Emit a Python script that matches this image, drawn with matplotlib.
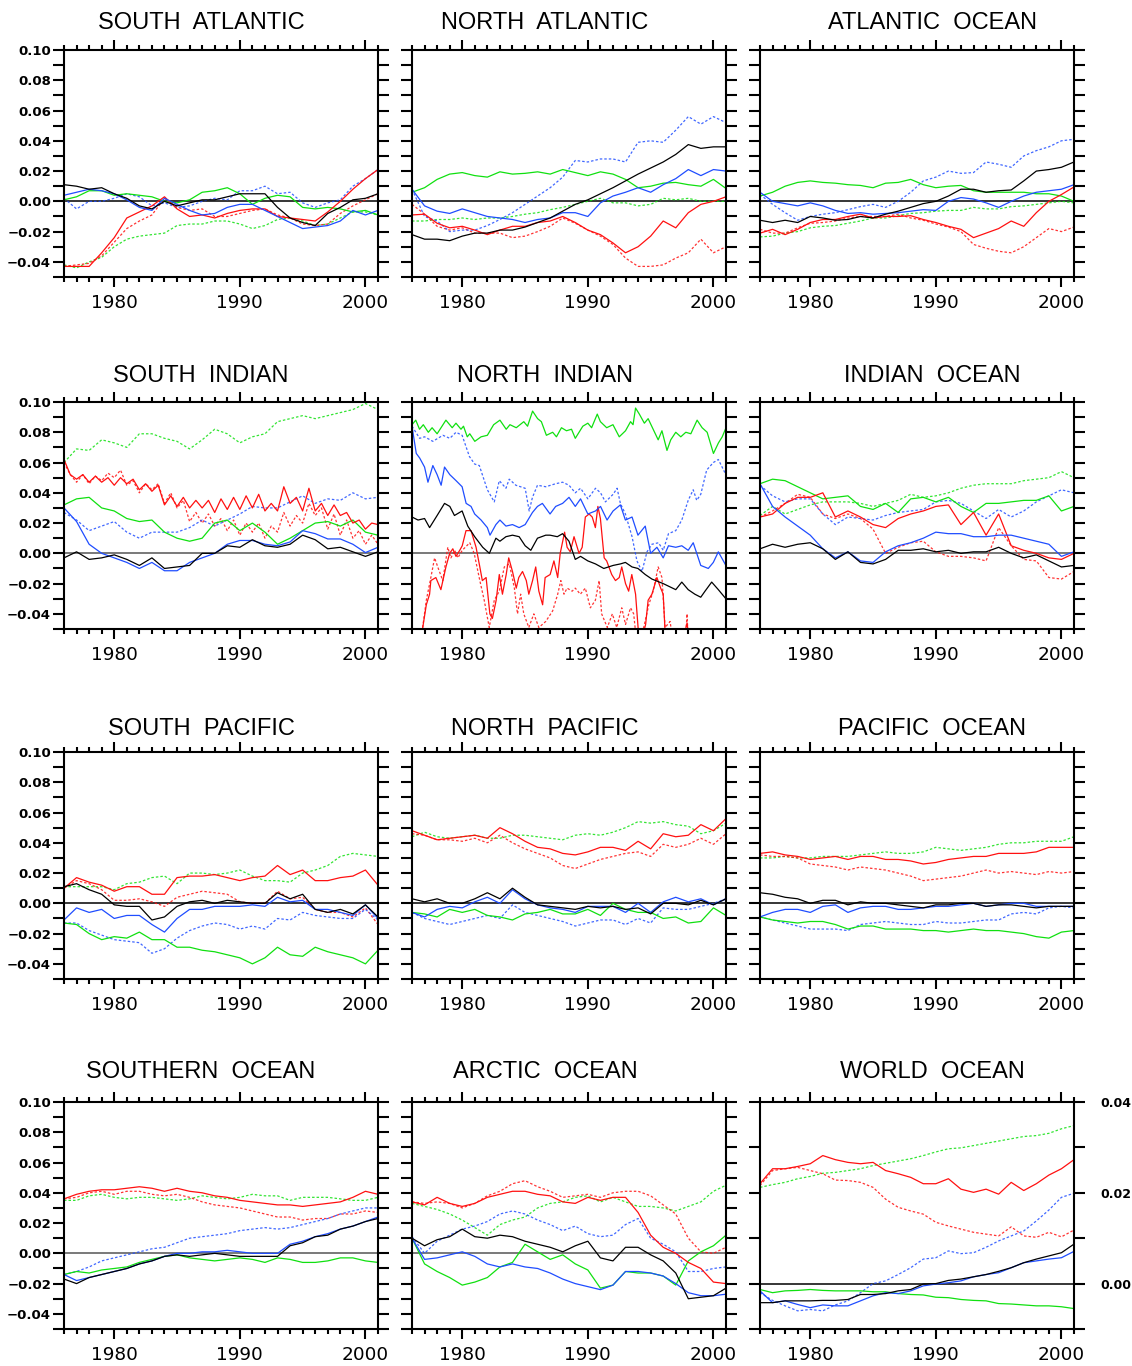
import numpy as np
import matplotlib
matplotlib.use("Agg")
import matplotlib.pyplot as plt
from matplotlib.ticker import MultipleLocator, FixedLocator, FuncFormatter

# yearly samples 1976..2001, half-year samples for the zig-zag series
years = np.arange(1976, 2002)
half_years = np.arange(1976, 2001.01, 0.5)

# ---------------- SOUTH ATLANTIC
sat_blk = [0.011, 0.010, 0.008, 0.009, 0.005, 0.002, -0.003, -0.005, 0.000, -0.003, -0.001, 0.001, 0.001,
           0.003, 0.005, 0.005, 0.005, -0.004, -0.011, -0.014, -0.016, -0.008, -0.004, 0.001, 0.002, 0.005]
sat_blu = [0.004, 0.006, 0.008, 0.007, 0.005, 0.001, -0.004, -0.006, 0.002, -0.002, -0.006, -0.009, -0.008,
           -0.004, -0.002, -0.002, -0.006, -0.010, -0.014, -0.018, -0.017, -0.016, -0.013, -0.006, -0.009, -0.006]
sat_bld = [0.002, -0.005, 0.000, 0.000, 0.002, 0.005, 0.003, -0.003, -0.001, -0.004, -0.003, 0.000, 0.002,
           0.001, 0.007, 0.007, 0.010, 0.005, 0.006, -0.001, -0.004, -0.001, 0.001, 0.010, 0.015, 0.021]
sat_grn = [0.001, 0.003, 0.007, 0.007, 0.004, 0.005, 0.004, 0.003, 0.000, -0.001, 0.001, 0.006, 0.007,
           0.009, 0.005, -0.002, 0.002, 0.004, 0.003, -0.004, -0.005, -0.004, -0.005, -0.007, -0.006, -0.009]
sat_grd = [-0.042, -0.044, -0.040, -0.037, -0.030, -0.025, -0.023, -0.022, -0.021, -0.016, -0.015, -0.015, -0.013,
           -0.013, -0.015, -0.018, -0.016, -0.012, -0.011, -0.013, -0.016, -0.015, -0.011, -0.007, -0.007, -0.009]
sat_red = [-0.043, -0.043, -0.043, -0.034, -0.024, -0.011, -0.007, -0.003, 0.003, -0.005, -0.010, -0.009, -0.011,
           -0.008, -0.006, -0.005, -0.005, -0.010, -0.011, -0.012, -0.013, -0.007, 0.000, 0.008, 0.015, 0.021]
sat_rdd = [-0.043, -0.042, -0.041, -0.036, -0.027, -0.018, -0.013, -0.009, 0.002, -0.004, -0.006, -0.005, -0.010,
           -0.010, -0.008, -0.006, -0.005, -0.009, -0.011, -0.015, -0.016, -0.015, -0.008, -0.003, 0.001, 0.005]

# ---------------- NORTH ATLANTIC
nat_blk = [-0.022, -0.025, -0.025, -0.026, -0.023, -0.021, -0.021, -0.019, -0.019, -0.017, -0.014, -0.011, -0.0065,
           -0.002, 0.001, 0.005, 0.009, 0.0135, 0.018, 0.022, 0.026, 0.031, 0.0375, 0.035, 0.036, 0.036]
nat_blu = [0.008, -0.003, -0.0065, -0.008, -0.005, -0.0075, -0.010, -0.011, -0.012, -0.014, -0.012, -0.011, -0.0075,
           -0.0075, -0.010, -0.001, 0.0035, 0.006, 0.009, 0.006, 0.011, 0.015, 0.021, 0.017, 0.021, 0.020]
nat_bld = [0.008, -0.010, -0.013, -0.020, -0.019, -0.019, -0.016, -0.012, -0.0075, -0.002, 0.0035, 0.009, 0.016,
           0.027, 0.026, 0.028, 0.028, 0.026, 0.039, 0.040, 0.039, 0.047, 0.056, 0.051, 0.056, 0.052]
nat_grn = [0.006, 0.009, 0.0145, 0.018, 0.019, 0.017, 0.016, 0.0195, 0.018, 0.0185, 0.0195, 0.018, 0.021,
           0.019, 0.017, 0.0195, 0.018, 0.0145, 0.009, 0.010, 0.012, 0.0125, 0.011, 0.010, 0.0145, 0.0085]
nat_grd = [-0.013, -0.013, -0.012, -0.012, -0.011, -0.012, -0.011, -0.011, -0.010, -0.0085, -0.0075, -0.0055, -0.004,
           -0.002, 0.000, 0.002, -0.001, -0.001, -0.003, -0.002, 0.002, 0.001, 0.002, 0.000, 0.000, 0.000]
nat_red = [-0.009, -0.0085, -0.0145, -0.0175, -0.0165, -0.019, -0.022, -0.019, -0.0165, -0.0165, -0.014, -0.013, -0.010,
           -0.014, -0.019, -0.022, -0.0275, -0.034, -0.030, -0.023, -0.013, -0.0175, -0.0075, -0.002, 0.000, 0.003]
nat_rdd = [-0.002, -0.0085, -0.0165, -0.019, -0.0175, -0.021, -0.021, -0.021, -0.024, -0.023, -0.020, -0.0165, -0.011,
           -0.0145, -0.019, -0.023, -0.0285, -0.0375, -0.043, -0.043, -0.042, -0.0375, -0.034, -0.025, -0.034, -0.030]

# ---------------- ATLANTIC OCEAN
atl_blk = [-0.0125, -0.014, -0.0125, -0.014, -0.010, -0.011, -0.0125, -0.012, -0.010, -0.011, -0.0085, -0.0065, -0.004,
           -0.0015, 0.000, 0.0035, 0.008, 0.008, 0.006, 0.007, 0.0075, 0.0135, 0.020, 0.021, 0.0225, 0.026]
atl_blu = [0.006, 0.000, -0.0015, -0.003, -0.001, -0.003, -0.006, -0.008, -0.0075, -0.0085, -0.008, -0.0075, -0.0065,
           -0.0055, -0.006, 0.000, 0.0025, 0.0015, -0.001, -0.004, 0.000, 0.0035, 0.006, 0.007, 0.008, 0.011]
atl_bld = [0.0045, -0.002, -0.0075, -0.0125, -0.010, -0.0085, -0.0075, -0.0055, -0.0035, -0.002, -0.004, 0.000, 0.006,
           0.0135, 0.016, 0.020, 0.0185, 0.019, 0.026, 0.0245, 0.0225, 0.030, 0.0335, 0.036, 0.040, 0.041]
atl_grn = [0.0035, 0.006, 0.010, 0.0125, 0.0135, 0.0125, 0.012, 0.011, 0.0105, 0.009, 0.012, 0.0125, 0.0145,
           0.011, 0.009, 0.010, 0.0105, 0.007, 0.006, 0.006, 0.006, 0.006, 0.005, 0.005, 0.0035, 0.000]
atl_grd = [-0.0235, -0.023, -0.021, -0.020, -0.0175, -0.0165, -0.016, -0.0145, -0.013, -0.011, -0.011, -0.0095, -0.008,
           -0.0075, -0.0065, -0.006, -0.006, -0.004, -0.005, -0.005, -0.0035, -0.003, -0.002, -0.001, 0.000, -0.001]
atl_red = [-0.021, -0.0185, -0.022, -0.0185, -0.014, -0.012, -0.012, -0.010, -0.0085, -0.011, -0.010, -0.010, -0.0095,
           -0.012, -0.014, -0.0165, -0.0185, -0.024, -0.021, -0.018, -0.013, -0.0165, -0.0075, 0.000, 0.0045, 0.0095]
atl_rdd = [-0.0185, -0.021, -0.021, -0.0175, -0.0145, -0.014, -0.013, -0.011, -0.010, -0.010, -0.010, -0.0085, -0.011,
           -0.0125, -0.015, -0.017, -0.020, -0.0285, -0.031, -0.033, -0.034, -0.030, -0.024, -0.018, -0.020, -0.017]

# ---------------- SOUTH INDIAN
sin_blk = [-0.003, 0.001, -0.004, -0.003, -0.001, -0.004, -0.008, -0.003, -0.010, -0.009, -0.008, 0.000, 0.000,
           0.005, 0.004, 0.009, 0.005, 0.004, 0.006, 0.012, 0.009, 0.003, 0.004, 0.001, -0.002, 0.001]
sin_blu = [0.030, 0.021, 0.006, 0.000, -0.003, -0.006, -0.010, -0.006, -0.0115, -0.0115, -0.006, -0.003, 0.000,
           0.006, 0.0085, 0.0085, 0.006, 0.005, 0.0075, 0.015, 0.013, 0.0095, 0.0095, 0.006, 0.0005, 0.004]
sin_bld = [0.027, 0.022, 0.015, 0.018, 0.021, 0.014, 0.010, 0.014, 0.014, 0.014, 0.017, 0.022, 0.018,
           0.022, 0.026, 0.031, 0.030, 0.030, 0.034, 0.038, 0.033, 0.036, 0.035, 0.040, 0.036, 0.037]
sin_grn = [0.032, 0.036, 0.037, 0.030, 0.028, 0.023, 0.021, 0.022, 0.014, 0.010, 0.008, 0.010, 0.020,
           0.022, 0.015, 0.020, 0.014, 0.006, 0.010, 0.015, 0.020, 0.021, 0.018, 0.022, 0.014, 0.012]
sin_grd = [0.060, 0.069, 0.068, 0.075, 0.073, 0.070, 0.079, 0.079, 0.076, 0.074, 0.069, 0.075, 0.082,
           0.079, 0.073, 0.077, 0.079, 0.087, 0.089, 0.091, 0.089, 0.091, 0.093, 0.095, 0.099, 0.095]
sin_red = [0.062, 0.052, 0.049, 0.052, 0.047, 0.051, 0.047, 0.050, 0.045, 0.050, 0.046, 0.049, 0.042,
           0.046, 0.041, 0.045, 0.032, 0.038, 0.031, 0.037, 0.030, 0.035, 0.030, 0.035, 0.027, 0.036,
           0.029, 0.037, 0.029, 0.038, 0.030, 0.039, 0.028, 0.033, 0.028, 0.044, 0.033, 0.037, 0.028,
           0.043, 0.028, 0.033, 0.025, 0.032, 0.025, 0.027, 0.020, 0.022, 0.016, 0.020, 0.019]
sin_rdd = [0.060, 0.052, 0.047, 0.052, 0.046, 0.051, 0.048, 0.053, 0.050, 0.055, 0.045, 0.048, 0.040,
           0.046, 0.042, 0.046, 0.033, 0.040, 0.030, 0.035, 0.021, 0.027, 0.020, 0.026, 0.018, 0.023,
           0.015, 0.022, 0.012, 0.020, 0.014, 0.020, 0.010, 0.018, 0.014, 0.027, 0.018, 0.025, 0.020,
           0.033, 0.025, 0.030, 0.016, 0.026, 0.012, 0.022, 0.010, 0.015, 0.006, 0.012, 0.006]

# ---------------- NORTH INDIAN (irregular sampling)
nin_grn_t = [1976.0, 1976.3, 1976.6, 1976.9, 1977.3, 1977.6, 1978.0, 1978.7, 1979.2, 1979.5, 1979.9, 1980.1,
             1980.4, 1980.6, 1981.0, 1981.5, 1982.0, 1982.5, 1983.0, 1983.5, 1983.8, 1984.3, 1984.9, 1985.2,
             1985.6, 1986.0, 1986.3, 1986.7, 1987.2, 1987.5, 1987.9, 1988.3, 1988.7, 1989.0, 1989.3, 1989.6,
             1990.0, 1990.3, 1990.75, 1991.0, 1991.5, 1992.0, 1992.5, 1993.0, 1993.4, 1993.6, 1993.8, 1994.1,
             1994.5, 1994.8, 1995.2, 1995.6, 1995.9, 1996.3, 1996.6, 1997.0, 1997.4, 1997.8, 1998.2, 1998.7,
             1999.1, 1999.5, 2000.0, 2000.4, 2000.7, 2001.0]
nin_grn = [0.085, 0.088, 0.082, 0.085, 0.080, 0.083, 0.079, 0.088, 0.083, 0.086, 0.082, 0.084,
           0.077, 0.079, 0.074, 0.077, 0.078, 0.085, 0.088, 0.082, 0.085, 0.083, 0.087, 0.084,
           0.094, 0.089, 0.087, 0.078, 0.080, 0.077, 0.083, 0.081, 0.082, 0.076, 0.080, 0.084,
           0.086, 0.083, 0.092, 0.087, 0.083, 0.085, 0.077, 0.081, 0.087, 0.085, 0.096, 0.092,
           0.086, 0.089, 0.082, 0.075, 0.081, 0.068, 0.075, 0.080, 0.077, 0.080, 0.079, 0.088,
           0.083, 0.080, 0.066, 0.073, 0.077, 0.083]
nin_blu_t = [1976.0, 1976.34, 1976.61, 1977.0, 1977.27, 1977.66, 1978.0, 1978.32, 1978.59, 1979.01, 1979.51,
             1979.99, 1980.31, 1980.7, 1980.99, 1981.5, 1982.0, 1982.21, 1982.68, 1983.0, 1983.48, 1984.0,
             1984.53, 1985.01, 1985.59, 1985.99, 1986.38, 1986.99, 1987.44, 1987.99, 1988.5, 1989.0, 1989.42,
             1990.0, 1990.61, 1991.01, 1991.53, 1992.01, 1992.59, 1992.99, 1993.52, 1993.99, 1994.57, 1995.0,
             1995.5, 1996.0, 1996.42, 1997.0, 1997.48, 1997.99, 1998.39, 1998.99, 1999.59, 1999.99, 2000.39,
             2000.99]
nin_blu = [0.084, 0.066, 0.063, 0.057, 0.047, 0.058, 0.052, 0.045, 0.057, 0.052, 0.048,
           0.044, 0.033, 0.031, 0.026, 0.022, 0.017, 0.012, 0.019, 0.022, 0.018, 0.019,
           0.017, 0.019, 0.027, 0.031, 0.033, 0.026, 0.031, 0.033, 0.037, 0.031, 0.036,
           0.026, 0.028, 0.031, 0.022, 0.028, 0.032, 0.022, 0.024, 0.012, 0.018, 0.000,
           0.004, -0.003, 0.005, 0.004, 0.005, 0.002, 0.007, -0.008, -0.010, -0.006, 0.001,
           -0.008]
nin_bld_t = [1976.0, 1976.61, 1977.0, 1977.66, 1978.46, 1979.01, 1979.51, 1979.99, 1980.57, 1980.99, 1981.36,
             1982.0, 1982.55, 1982.95, 1983.48, 1983.74, 1984.27, 1985.01, 1985.33, 1985.59, 1985.99, 1986.65,
             1987.44, 1987.99, 1988.5, 1989.0, 1989.42, 1990.0, 1990.61, 1991.01, 1991.4, 1992.01, 1992.33,
             1992.59, 1992.99, 1993.52, 1993.91, 1994.31, 1994.71, 1995.1, 1995.63, 1996.0, 1996.42, 1997.0,
             1997.48, 1997.99, 1998.39, 1998.67, 1998.99, 1999.46, 1999.99, 2000.39, 2000.99]
nin_bld = [0.084, 0.076, 0.077, 0.074, 0.078, 0.076, 0.080, 0.078, 0.064, 0.059, 0.058,
           0.042, 0.034, 0.048, 0.043, 0.049, 0.045, 0.043, 0.028, 0.037, 0.045, 0.044,
           0.046, 0.047, 0.045, 0.040, 0.043, 0.036, 0.043, 0.040, 0.034, 0.039, 0.043,
           0.033, 0.026, 0.011, -0.005, -0.012, 0.001, 0.006, 0.007, 0.002, 0.013, 0.015,
           0.022, 0.035, 0.042, 0.035, 0.039, 0.055, 0.060, 0.062, 0.052]
nin_blk_t = [1976.0, 1976.48, 1977.0, 1977.4, 1978.0, 1978.59, 1979.01, 1979.38, 1979.99, 1980.44, 1980.99,
             1981.63, 1982.16, 1982.68, 1983.0, 1983.48, 1984.0, 1984.53, 1985.01, 1985.46, 1985.99, 1986.65,
             1986.99, 1987.57, 1987.99, 1988.5, 1989.0, 1989.42, 1990.0, 1990.61, 1991.27, 1992.01, 1992.59,
             1992.99, 1993.52, 1993.99, 1994.57, 1995.1, 1996.0, 1997.0, 1997.48, 1997.99, 1998.52, 1998.99,
             1999.33, 1999.86, 2000.39, 2000.99]
nin_blk = [0.024, 0.022, 0.023, 0.017, 0.025, 0.033, 0.031, 0.025, 0.028, 0.018, 0.011,
           0.004, 0.000, 0.010, 0.008, 0.011, 0.012, 0.011, 0.005, 0.002, 0.010, 0.012,
           0.012, 0.011, 0.013, 0.008, -0.004, -0.002, -0.005, -0.007, -0.010, -0.008, -0.007,
           -0.006, -0.009, -0.010, -0.014, -0.017, -0.020, -0.024, -0.019, -0.024, -0.027, -0.029,
           -0.025, -0.019, -0.024, -0.030]
nin_red_t = [1976.8, 1977.14, 1977.4, 1977.5, 1977.9, 1978.3, 1978.7, 1979.0, 1979.25, 1979.5, 1979.8, 1980.0,
             1980.3, 1980.7, 1981.1, 1981.4, 1981.6, 1981.9, 1982.2, 1982.4, 1982.7, 1982.95, 1983.2, 1983.5,
             1983.7, 1984.0, 1984.3, 1984.5, 1984.8, 1985.1, 1985.3, 1985.6, 1985.85, 1986.1, 1986.4, 1986.6,
             1987.0, 1987.3, 1987.6, 1987.8, 1988.15, 1988.35, 1988.6, 1988.9, 1989.3, 1989.55, 1989.8, 1990.1,
             1990.35, 1990.6, 1990.8, 1991.0, 1991.3, 1991.5, 1991.9, 1992.2, 1992.5, 1992.7, 1993.0, 1993.25,
             1993.5, 1993.8, 1994.0, 1994.2, 1994.6, 1994.8, 1995.1, 1995.5, 1995.8, 1996.0, 1996.2, 1997.5,
             1997.9, 1998.1, 2001.0]
nin_red = [-0.052, -0.034, -0.027, -0.018, -0.016, -0.024, -0.009, 0.000, 0.003, -0.002, 0.002, 0.005,
           0.015, 0.015, 0.004, -0.009, -0.018, -0.016, -0.040, -0.043, -0.031, -0.014, -0.027, -0.014,
           -0.003, -0.012, -0.023, -0.016, -0.012, -0.018, -0.027, -0.018, -0.009, -0.025, -0.034, -0.016,
           -0.014, -0.005, -0.016, 0.000, 0.014, 0.004, 0.001, 0.011, 0.000, 0.004, 0.024, 0.026,
           0.024, 0.017, 0.031, 0.023, -0.003, -0.005, -0.014, -0.018, -0.016, -0.009, -0.020, -0.025,
           -0.014, -0.027, -0.049, -0.060, -0.047, -0.031, -0.027, -0.016, -0.023, -0.027, -0.060, -0.060,
           -0.046, -0.060, -0.060]
nin_rdd_t = [1976.8, 1977.14, 1977.5, 1977.8, 1978.05, 1978.45, 1978.85, 1979.1, 1979.4, 1979.65, 1980.0,
             1980.6, 1980.95, 1981.4, 1981.75, 1982.15, 1982.55, 1982.95, 1983.35, 1983.75, 1984.15, 1984.4,
             1984.65, 1984.9, 1985.3, 1985.7, 1986.1, 1986.65, 1987.2, 1987.6, 1987.85, 1988.1, 1988.35,
             1988.75, 1989.0, 1989.4, 1989.8, 1990.2, 1990.6, 1990.9, 1991.1, 1991.55, 1991.95, 1992.3,
             1992.7, 1993.0, 1993.4, 1993.65, 1993.9, 1994.45, 1994.85, 1995.2, 1995.6, 1995.9, 1996.15,
             1996.55, 1996.8, 1997.75, 1997.9, 1998.0, 2001.0]
nin_rdd = [-0.052, -0.031, -0.016, -0.003, -0.009, -0.018, 0.004, -0.003, 0.002, -0.003, 0.002,
           0.007, 0.000, -0.018, -0.031, -0.049, -0.031, -0.025, -0.009, -0.007, -0.023, -0.040,
           -0.027, -0.040, -0.049, -0.040, -0.049, -0.045, -0.038, -0.027, -0.018, -0.027, -0.023,
           -0.025, -0.023, -0.027, -0.023, -0.036, -0.031, -0.018, -0.040, -0.049, -0.040, -0.049,
           -0.036, -0.047, -0.036, -0.040, -0.060, -0.049, -0.034, -0.025, -0.009, -0.016, -0.049,
           -0.045, -0.060, -0.060, -0.040, -0.060, -0.060]

# ---------------- INDIAN OCEAN
ind_blk = [0.003, 0.006, 0.004, 0.006, 0.007, 0.003, -0.004, 0.001, -0.006, -0.007, -0.004, 0.002, 0.002,
           0.003, 0.001, 0.002, 0.000, 0.001, 0.001, 0.004, 0.000, -0.003, -0.001, -0.005, -0.009, -0.008]
ind_blu = [0.046, 0.031, 0.024, 0.018, 0.012, 0.003, -0.003, 0.001, -0.005, -0.006, 0.001, 0.005, 0.007,
           0.010, 0.014, 0.013, 0.013, 0.011, 0.011, 0.012, 0.012, 0.010, 0.008, 0.006, -0.002, 0.001]
ind_bld = [0.045, 0.038, 0.034, 0.036, 0.036, 0.026, 0.019, 0.024, 0.023, 0.022, 0.025, 0.027, 0.028,
           0.029, 0.034, 0.035, 0.033, 0.028, 0.023, 0.029, 0.024, 0.028, 0.034, 0.038, 0.042, 0.040]
ind_grn = [0.046, 0.049, 0.048, 0.044, 0.040, 0.036, 0.037, 0.038, 0.031, 0.029, 0.033, 0.027, 0.036,
           0.037, 0.034, 0.037, 0.031, 0.027, 0.033, 0.033, 0.034, 0.035, 0.035, 0.038, 0.028, 0.031]
ind_grd = [0.025, 0.031, 0.026, 0.029, 0.032, 0.034, 0.034, 0.034, 0.033, 0.031, 0.033, 0.035, 0.039,
           0.037, 0.038, 0.040, 0.043, 0.045, 0.046, 0.046, 0.046, 0.048, 0.049, 0.050, 0.054, 0.050]
ind_red = [0.024, 0.026, 0.033, 0.037, 0.037, 0.040, 0.024, 0.028, 0.024, 0.019, 0.017, 0.023, 0.026,
           0.028, 0.031, 0.032, 0.019, 0.027, 0.012, 0.026, 0.005, 0.002, 0.000, -0.003, -0.004, 0.000]
ind_rdd = [0.024, 0.028, 0.033, 0.039, 0.037, 0.026, 0.023, 0.026, 0.023, 0.016, 0.000, 0.004, 0.007,
           0.008, 0.001, -0.002, -0.002, -0.003, -0.005, 0.017, 0.005, -0.004, -0.005, -0.016, -0.017, -0.012]

# ---------------- SOUTH PACIFIC
spa_blk = [0.011, 0.013, 0.009, 0.006, -0.001, -0.002, -0.002, -0.011, -0.009, -0.002, 0.001, 0.002, 0.000,
           0.002, 0.001, 0.000, 0.000, 0.007, 0.003, 0.006, -0.004, -0.006, -0.004, -0.007, -0.001, -0.009]
spa_blu = [-0.011, -0.003, -0.006, -0.004, -0.010, -0.008, -0.008, -0.014, -0.019, -0.010, -0.004, -0.004, -0.002,
           -0.002, -0.002, -0.001, -0.002, 0.004, 0.001, 0.002, -0.004, -0.004, -0.006, -0.008, -0.001, -0.010]
spa_bld = [-0.013, -0.013, -0.018, -0.021, -0.024, -0.025, -0.026, -0.033, -0.030, -0.023, -0.018, -0.015, -0.013,
           -0.014, -0.017, -0.015, -0.017, -0.010, -0.011, -0.006, -0.008, -0.009, -0.010, -0.010, -0.004, -0.011]
spa_grn = [-0.013, -0.014, -0.020, -0.024, -0.022, -0.023, -0.019, -0.024, -0.024, -0.029, -0.029, -0.031, -0.032,
           -0.034, -0.036, -0.040, -0.036, -0.029, -0.034, -0.035, -0.029, -0.032, -0.034, -0.036, -0.040, -0.031]
spa_grd = [0.011, 0.011, 0.011, 0.011, 0.009, 0.013, 0.014, 0.017, 0.018, 0.013, 0.020, 0.020, 0.019,
           0.020, 0.022, 0.018, 0.015, 0.015, 0.014, 0.020, 0.022, 0.025, 0.031, 0.033, 0.032, 0.031]
spa_red = [0.010, 0.017, 0.014, 0.012, 0.008, 0.011, 0.011, 0.006, 0.006, 0.017, 0.018, 0.018, 0.019,
           0.017, 0.015, 0.017, 0.018, 0.025, 0.019, 0.022, 0.015, 0.015, 0.017, 0.018, 0.022, 0.012]
spa_rdd = [0.010, 0.015, 0.013, 0.009, 0.002, 0.002, 0.003, 0.001, -0.002, 0.004, 0.006, 0.008, 0.007,
           0.006, 0.001, 0.000, 0.000, 0.008, 0.003, 0.004, -0.004, -0.006, -0.006, -0.009, -0.003, -0.014]

# ---------------- NORTH PACIFIC
npa_blk = [0.003, 0.001, 0.003, 0.000, 0.000, 0.003, 0.007, 0.003, 0.010, 0.004, -0.001, -0.002, -0.003,
           -0.004, -0.002, -0.003, -0.002, -0.004, -0.003, -0.007, 0.000, 0.000, -0.001, 0.002, -0.001, 0.003]
npa_blu = [-0.006, -0.009, -0.004, -0.002, -0.003, 0.001, 0.004, 0.000, 0.009, 0.003, -0.001, -0.003, -0.004,
           -0.006, -0.002, -0.002, -0.002, -0.006, 0.000, -0.006, 0.001, 0.004, 0.001, 0.003, -0.001, 0.003]
npa_bld = [-0.006, -0.010, -0.012, -0.014, -0.012, -0.010, -0.008, -0.010, -0.001, -0.006, -0.008, -0.010, -0.012,
           -0.015, -0.013, -0.011, -0.011, -0.014, -0.010, -0.013, -0.003, -0.004, -0.004, -0.002, 0.000, 0.003]
npa_grn = [-0.006, -0.007, -0.009, -0.004, -0.006, -0.004, -0.008, -0.009, -0.011, -0.007, -0.006, -0.004, -0.007,
           -0.007, -0.004, -0.008, 0.000, -0.004, -0.006, -0.006, -0.010, -0.009, -0.013, -0.012, -0.003, -0.008]
npa_grd = [0.044, 0.047, 0.044, 0.043, 0.044, 0.045, 0.043, 0.043, 0.045, 0.045, 0.044, 0.043, 0.042,
           0.045, 0.046, 0.045, 0.047, 0.050, 0.054, 0.053, 0.054, 0.052, 0.051, 0.046, 0.048, 0.053]
npa_red = [0.048, 0.045, 0.042, 0.043, 0.044, 0.045, 0.043, 0.050, 0.046, 0.041, 0.037, 0.036, 0.033,
           0.032, 0.034, 0.037, 0.037, 0.035, 0.041, 0.036, 0.046, 0.044, 0.045, 0.052, 0.048, 0.056]
npa_rdd = [0.046, 0.045, 0.042, 0.042, 0.041, 0.043, 0.040, 0.045, 0.040, 0.036, 0.033, 0.030, 0.025,
           0.023, 0.026, 0.029, 0.031, 0.033, 0.034, 0.031, 0.039, 0.037, 0.039, 0.043, 0.039, 0.046]

# ---------------- PACIFIC OCEAN
pac_blk = [0.007, 0.006, 0.004, 0.003, 0.000, 0.002, 0.002, -0.001, 0.001, 0.000, 0.000, -0.001, -0.002,
           -0.003, -0.001, -0.001, 0.000, 0.000, -0.002, -0.001, -0.001, -0.002, -0.003, -0.002, -0.002, -0.002]
pac_blu = [-0.009, -0.006, -0.004, -0.004, -0.006, -0.002, -0.001, -0.006, -0.003, -0.002, -0.002, -0.004, -0.004,
           -0.003, -0.002, -0.002, -0.001, 0.000, -0.002, -0.001, 0.000, 0.000, -0.002, -0.002, -0.002, -0.002]
pac_bld = [-0.009, -0.011, -0.013, -0.015, -0.017, -0.017, -0.017, -0.018, -0.014, -0.013, -0.012, -0.013, -0.014,
           -0.014, -0.012, -0.013, -0.013, -0.012, -0.011, -0.011, -0.007, -0.006, -0.007, -0.003, -0.002, -0.003]
pac_grn = [-0.009, -0.011, -0.012, -0.013, -0.012, -0.012, -0.014, -0.017, -0.015, -0.015, -0.017, -0.017, -0.017,
           -0.018, -0.018, -0.019, -0.018, -0.017, -0.018, -0.018, -0.019, -0.020, -0.022, -0.023, -0.019, -0.018]
pac_grd = [0.030, 0.030, 0.031, 0.030, 0.030, 0.031, 0.031, 0.031, 0.032, 0.033, 0.034, 0.033, 0.033,
           0.034, 0.037, 0.036, 0.035, 0.036, 0.037, 0.039, 0.040, 0.040, 0.041, 0.041, 0.041, 0.044]
pac_red = [0.033, 0.034, 0.032, 0.031, 0.029, 0.030, 0.031, 0.029, 0.031, 0.031, 0.029, 0.029, 0.028,
           0.026, 0.027, 0.029, 0.030, 0.031, 0.031, 0.033, 0.033, 0.033, 0.034, 0.037, 0.037, 0.037]
pac_rdd = [0.032, 0.031, 0.031, 0.030, 0.026, 0.025, 0.024, 0.022, 0.024, 0.023, 0.022, 0.020, 0.018,
           0.015, 0.016, 0.017, 0.018, 0.020, 0.022, 0.020, 0.021, 0.020, 0.019, 0.021, 0.020, 0.021]

# ---------------- SOUTHERN OCEAN
soc_blk = [-0.017, -0.020, -0.016, -0.014, -0.012, -0.010, -0.007, -0.005, -0.002, -0.001, -0.002, -0.001, 0.000,
           -0.001, -0.002, -0.002, -0.002, -0.002, 0.005, 0.007, 0.011, 0.012, 0.016, 0.018, 0.021, 0.023]
soc_blu = [-0.014, -0.018, -0.016, -0.014, -0.012, -0.010, -0.007, -0.005, -0.002, 0.000, 0.000, 0.001, 0.001,
           0.002, 0.001, 0.000, 0.000, 0.000, 0.006, 0.008, 0.011, 0.013, 0.016, 0.018, 0.021, 0.024]
soc_bld = [-0.014, -0.012, -0.009, -0.005, -0.003, -0.001, 0.001, 0.003, 0.004, 0.007, 0.010, 0.011, 0.012,
           0.013, 0.015, 0.016, 0.017, 0.016, 0.017, 0.019, 0.021, 0.023, 0.026, 0.028, 0.030, 0.030]
soc_grn = [-0.014, -0.012, -0.013, -0.011, -0.010, -0.009, -0.006, -0.004, -0.002, -0.001, -0.003, -0.004, -0.005,
           -0.004, -0.003, -0.004, -0.006, -0.003, -0.004, -0.006, -0.006, -0.005, -0.003, -0.003, -0.005, -0.006]
soc_grd = [0.035, 0.035, 0.038, 0.039, 0.037, 0.036, 0.037, 0.037, 0.036, 0.035, 0.036, 0.038, 0.037,
           0.036, 0.037, 0.039, 0.038, 0.038, 0.035, 0.037, 0.037, 0.037, 0.036, 0.035, 0.035, 0.037]
soc_red = [0.036, 0.039, 0.041, 0.042, 0.042, 0.043, 0.044, 0.043, 0.041, 0.043, 0.041, 0.040, 0.038,
           0.037, 0.035, 0.034, 0.033, 0.032, 0.032, 0.031, 0.032, 0.033, 0.034, 0.037, 0.041, 0.039]
soc_rdd = [0.036, 0.037, 0.040, 0.041, 0.039, 0.041, 0.041, 0.039, 0.038, 0.039, 0.037, 0.034, 0.032,
           0.031, 0.030, 0.028, 0.026, 0.024, 0.024, 0.022, 0.023, 0.023, 0.026, 0.026, 0.028, 0.027]

# ---------------- ARCTIC OCEAN
arc_blk = [0.010, 0.005, 0.009, 0.011, 0.016, 0.011, 0.010, 0.012, 0.011, 0.008, 0.006, 0.004, 0.001,
           0.005, 0.008, -0.003, -0.005, 0.004, 0.004, -0.001, -0.005, -0.013, -0.030, -0.029, -0.028, -0.023]
arc_blu = [0.010, -0.004, -0.003, -0.001, 0.001, -0.002, -0.007, -0.009, -0.007, -0.009, -0.010, -0.013, -0.017,
           -0.020, -0.022, -0.024, -0.021, -0.012, -0.012, -0.013, -0.015, -0.020, -0.026, -0.028, -0.028, -0.027]
arc_bld = [0.011, 0.000, 0.008, 0.012, 0.016, 0.018, 0.021, 0.026, 0.028, 0.026, 0.022, 0.019, 0.015,
           0.018, 0.013, 0.011, 0.012, 0.019, 0.023, 0.010, 0.006, 0.001, -0.012, -0.012, -0.010, -0.009]
arc_grn = [0.010, -0.007, -0.012, -0.016, -0.021, -0.019, -0.016, -0.009, -0.006, 0.006, 0.001, -0.004, -0.001,
           -0.007, -0.011, -0.023, -0.021, -0.012, -0.013, -0.013, -0.015, -0.021, -0.005, 0.001, 0.005, 0.012]
arc_grd = [0.033, 0.031, 0.029, 0.026, 0.022, 0.017, 0.012, 0.019, 0.022, 0.024, 0.030, 0.033, 0.034,
           0.037, 0.038, 0.034, 0.037, 0.034, 0.031, 0.031, 0.030, 0.028, 0.031, 0.034, 0.041, 0.045]
arc_red = [0.034, 0.032, 0.037, 0.033, 0.031, 0.033, 0.037, 0.039, 0.041, 0.041, 0.039, 0.038, 0.034,
           0.033, 0.037, 0.035, 0.037, 0.037, 0.027, 0.012, 0.004, 0.000, -0.006, -0.010, -0.019, -0.020]
arc_rdd = [0.034, 0.033, 0.034, 0.033, 0.030, 0.033, 0.038, 0.041, 0.046, 0.048, 0.044, 0.041, 0.037,
           0.038, 0.039, 0.037, 0.040, 0.041, 0.041, 0.038, 0.032, 0.026, 0.010, 0.001, 0.000, 0.004]

# ---------------- WORLD OCEAN
wor_blk = [-0.0042, -0.0042, -0.0038, -0.0038, -0.0038, -0.0037, -0.0037, -0.0035, -0.0024, -0.0024, -0.0022, -0.0016,
           -0.0013, -0.0001, 0.0000, 0.0007, 0.0010, 0.0015, 0.0020, 0.0027, 0.0035, 0.0046, 0.0054, 0.0061, 0.0068, 0.0087]
wor_blu = [-0.0016, -0.0042, -0.0038, -0.0046, -0.0053, -0.0047, -0.0049, -0.0049, -0.0038, -0.0027, -0.0020, -0.0022,
           -0.0016, -0.0005, -0.0001, 0.0002, 0.0006, 0.0015, 0.0020, 0.0024, 0.0035, 0.0046, 0.0050, 0.0054, 0.0057, 0.0071]
wor_bld = [-0.0020, -0.0037, -0.0049, -0.0060, -0.0057, -0.0060, -0.0047, -0.0038, -0.0020, 0.0000, 0.0006, 0.0020,
           0.0035, 0.0054, 0.0057, 0.0072, 0.0066, 0.0068, 0.0080, 0.0094, 0.0105, 0.0116, 0.0138, 0.0162, 0.0190, 0.0199]
wor_grn = [-0.0013, -0.0020, -0.0016, -0.0015, -0.0013, -0.0015, -0.0016, -0.0016, -0.0016, -0.0018, -0.0018, -0.0022,
           -0.0024, -0.0025, -0.0030, -0.0031, -0.0035, -0.0037, -0.0038, -0.0044, -0.0045, -0.0047, -0.0049, -0.0049,
           -0.0051, -0.0055]
wor_grd = [0.0212, 0.0218, 0.0223, 0.0231, 0.0236, 0.0243, 0.0245, 0.0249, 0.0253, 0.0260, 0.0265, 0.0270,
           0.0275, 0.0282, 0.0290, 0.0297, 0.0299, 0.0304, 0.0309, 0.0314, 0.0319, 0.0324, 0.0326, 0.0331, 0.0341, 0.0348]
wor_red = [0.0220, 0.0253, 0.0253, 0.0258, 0.0264, 0.0282, 0.0273, 0.0267, 0.0264, 0.0267, 0.0249, 0.0242,
           0.0234, 0.0220, 0.0220, 0.0231, 0.0208, 0.0201, 0.0208, 0.0197, 0.0223, 0.0205, 0.0220, 0.0239, 0.0253, 0.0273]
wor_rdd = [0.0216, 0.0249, 0.0253, 0.0256, 0.0249, 0.0242, 0.0228, 0.0227, 0.0223, 0.0212, 0.0186, 0.0168,
           0.0160, 0.0153, 0.0135, 0.0127, 0.0120, 0.0113, 0.0109, 0.0105, 0.0125, 0.0105, 0.0102, 0.0113, 0.0103, 0.0118]

titles = ["SOUTH  ATLANTIC", "NORTH  ATLANTIC", "ATLANTIC  OCEAN",
          "SOUTH  INDIAN", "NORTH  INDIAN", "INDIAN  OCEAN",
          "SOUTH  PACIFIC", "NORTH  PACIFIC", "PACIFIC  OCEAN",
          "SOUTHERN  OCEAN", "ARCTIC  OCEAN", "WORLD  OCEAN"]

BLACK = "black"
BLUE = "#1f4dff"
GREEN = "#10e010"
RED = "#ff1010"


def yearly(blk, blu, bld, grn, grd, red, rdd, red_t=years, rdd_t=years):
    # dotted first, solid lines on top
    return [(years, grd, GREEN, ":"), (rdd_t, rdd, RED, ":"), (years, bld, BLUE, ":"),
            (years, grn, GREEN, "-"), (red_t, red, RED, "-"), (years, blu, BLUE, "-"),
            (years, blk, BLACK, "-")]


panels = [
    yearly(sat_blk, sat_blu, sat_bld, sat_grn, sat_grd, sat_red, sat_rdd),
    yearly(nat_blk, nat_blu, nat_bld, nat_grn, nat_grd, nat_red, nat_rdd),
    yearly(atl_blk, atl_blu, atl_bld, atl_grn, atl_grd, atl_red, atl_rdd),
    yearly(sin_blk, sin_blu, sin_bld, sin_grn, sin_grd, sin_red, sin_rdd, half_years, half_years),
    [(nin_rdd_t, nin_rdd, RED, ":"), (nin_bld_t, nin_bld, BLUE, ":"), (nin_grn_t, nin_grn, GREEN, "-"),
     (nin_red_t, nin_red, RED, "-"), (nin_blu_t, nin_blu, BLUE, "-"), (nin_blk_t, nin_blk, BLACK, "-")],
    yearly(ind_blk, ind_blu, ind_bld, ind_grn, ind_grd, ind_red, ind_rdd),
    yearly(spa_blk, spa_blu, spa_bld, spa_grn, spa_grd, spa_red, spa_rdd),
    yearly(npa_blk, npa_blu, npa_bld, npa_grn, npa_grd, npa_red, npa_rdd),
    yearly(pac_blk, pac_blu, pac_bld, pac_grn, pac_grd, pac_red, pac_rdd),
    yearly(soc_blk, soc_blu, soc_bld, soc_grn, soc_grd, soc_red, soc_rdd),
    yearly(arc_blk, arc_blu, arc_bld, arc_grn, arc_grd, arc_red, arc_rdd),
    yearly(wor_blk, wor_blu, wor_bld, wor_grn, wor_grd, wor_red, wor_rdd),
]

W, H = 1132, 1366
fig = plt.figure(figsize=(W / 100, H / 100), dpi=100)
fig.patch.set_facecolor("white")

col_left = [64, 412, 760]
row_top = [50, 402, 752, 1102]
title_x = [201, 545, 932]
title_y = [23, 376, 729, 1072]
ax_w, ax_h = 314, 227


def ylab(v, pos):
    k = int(round(v * 100))
    if k % 2:
        return ""
    if k == 0:
        return "0.00"
    return ("%.2f" % (k / 100.0)).replace("-", "\u2212")


for i, series in enumerate(panels):
    r, c = divmod(i, 3)
    ax = fig.add_axes([col_left[c] / W, 1 - (row_top[r] + ax_h) / H, ax_w / W, ax_h / H])
    world = (i == 11)
    for t, v, col, ls in series:
        if ls == ":":
            ax.plot(t, v, color=col, lw=0.9, dashes=(2.0, 1.6), alpha=0.85)
        else:
            ax.plot(t, v, color=col, lw=0.9)
    zcol = "#555555" if (r in (1, 3) and not world) else "black"
    ax.axhline(0, color=zcol, lw=1.1, zorder=0.5)

    ax.set_xlim(1976, 2001)
    if world:
        ax.set_ylim(-0.01, 0.04)
    else:
        ax.set_ylim(-0.05, 0.10)
    ax.xaxis.set_major_locator(FixedLocator([1980, 1990, 2000]))
    ax.xaxis.set_minor_locator(MultipleLocator(1))
    ax.yaxis.set_major_locator(MultipleLocator(0.01))
    ax.yaxis.set_major_formatter(FuncFormatter(ylab))

    for s in ax.spines.values():
        s.set_linewidth(1.5)
    ax.tick_params(axis="x", which="major", direction="out", length=7.5, width=1.5,
                   top=True, bottom=True, labelsize=13.3, pad=4.4)
    ax.tick_params(axis="x", which="minor", direction="out", length=3.8, width=1.5,
                   top=True, bottom=True)
    ax.tick_params(axis="y", which="major", direction="out", length=7.8, width=1.5,
                   left=True, right=True, labelsize=9.5, pad=1.5,
                   labelleft=(c == 0 and not world), labelright=world)
    if world:
        ax.tick_params(axis="y", pad=11, labelsize=9)
    for lab in ax.get_yticklabels():
        lab.set_fontweight("bold")

    fig.text(title_x[c] / W, 1 - title_y[r] / H, titles[i], ha="center", va="center",
             fontsize=17, family="Liberation Sans")

fig.savefig("out.png", dpi=100)
